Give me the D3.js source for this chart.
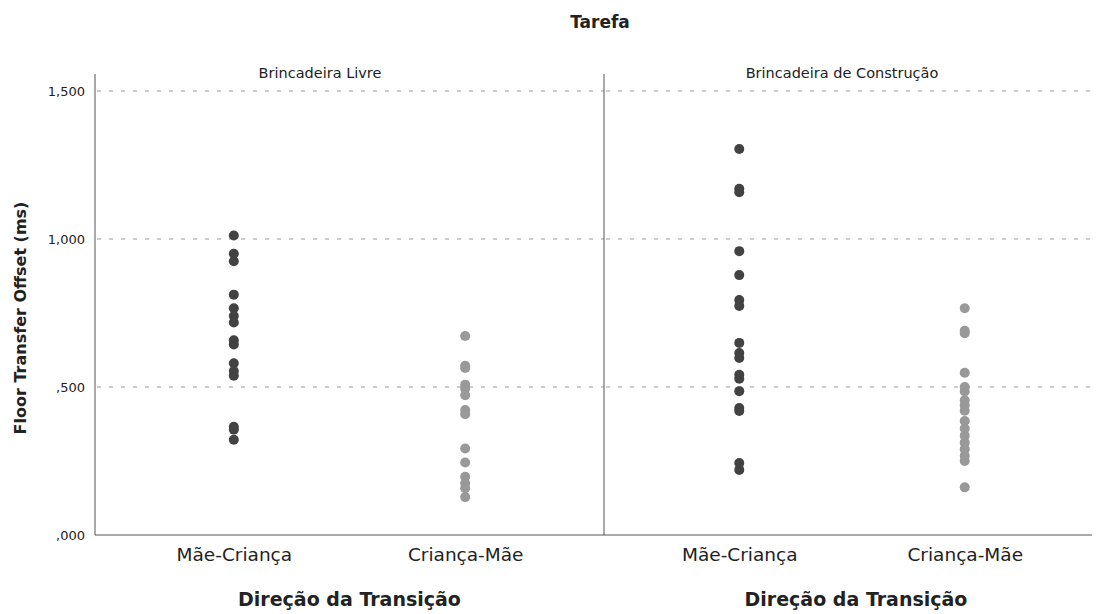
<!DOCTYPE html>
<html>
<head>
<meta charset="utf-8">
<script src="https://cdn.jsdelivr.net/npm/d3@7"></script>
<style>
  html, body { margin: 0; padding: 0; background: #ffffff; }
  svg { display: block; }
  text { font-family: "DejaVu Sans", sans-serif; fill: #222; }
</style>
</head>
<body>
<svg id="chart" width="1100" height="614"></svg>
<script>
// Panels (Tarefa) and x categories (Direção da Transição)
const tasks = ["Brincadeira Livre", "Brincadeira de Construção"];
const directions = ["Mãe-Criança", "Criança-Mãe"];

// Floor Transfer Offset (ms), one array per panel and direction
const livreMaeCrianca = [1012, 950, 925, 812, 766, 740, 718, 658, 644, 580, 554, 538, 366, 356, 322];
const livreCriancaMae = [672, 572, 564, 508, 494, 472, 422, 408, 292, 245, 197, 175, 158, 128];
const construcaoMaeCrianca = [1304, 1170, 1158, 959, 878, 794, 774, 649, 615, 598, 541, 528, 486, 429, 419, 243, 220];
const construcaoCriancaMae = [766, 690, 682, 548, 500, 485, 455, 438, 420, 385, 360, 335, 312, 290, 268, 250, 161];

const yTicks = [0, 500, 1000, 1500];
const yTickLabels = [",000", ",500", "1,000", "1,500"];
const gridValues = [500, 1000, 1500];

const chartTitle = "Tarefa";
const xTitle = "Direção da Transição";
const yTitle = "Floor Transfer Offset (ms)";

const panelData = [
  { task: tasks[0], series: [livreMaeCrianca, livreCriancaMae] },
  { task: tasks[1], series: [construcaoMaeCrianca, construcaoCriancaMae] }
];
const dotColors = ["#424242", "#999999"];

// Layout
const svg = d3.select("#chart");
const plotTop = 74, plotBottom = 535;
const axisX = 95, splitX = 604, rightX = 1100;
const panelRanges = [[axisX, splitX], [splitX, rightX]];

const y = d3.scaleLinear().domain([0, 1500]).range([plotBottom, 91]);

// Chart title
svg.append("text")
  .attr("x", 600).attr("y", 28)
  .attr("text-anchor", "middle")
  .style("font-size", "17px").style("font-weight", "bold")
  .text(chartTitle);

// Y axis title
svg.append("text")
  .attr("transform", `translate(26, 318) rotate(-90)`)
  .attr("text-anchor", "middle")
  .style("font-size", "16px").style("font-weight", "bold")
  .text(yTitle);

// Y axis (labels only; the frame line is drawn below)
const yAxis = d3.axisLeft(y)
  .tickValues(yTicks)
  .tickSize(0)
  .tickPadding(10)
  .tickFormat((d, i) => yTickLabels[i]);
const yG = svg.append("g").attr("transform", `translate(${axisX},0)`).call(yAxis);
yG.select(".domain").remove();
yG.selectAll("text")
  .style("font-family", "DejaVu Sans, sans-serif")
  .style("font-size", "13px")
  .attr("fill", "#333");

const panelLabelX = [320, 842];

panelData.forEach((p, pi) => {
  const [x0, x1] = panelRanges[pi];
  const x = d3.scalePoint().domain(directions).range([x0, x1]).padding(0.6);
  const g = svg.append("g");

  // dashed reference lines
  g.selectAll("line.grid")
    .data(gridValues)
    .join("line")
    .attr("class", "grid")
    .attr("x1", x0 + 2).attr("x2", pi === 1 ? 1096 : x1)
    .attr("y1", d => y(d)).attr("y2", d => y(d))
    .attr("stroke", "#bdbdbd")
    .attr("stroke-width", 1.5)
    .attr("stroke-dasharray", "4,8");

  // panel title
  g.append("text")
    .attr("x", panelLabelX[pi]).attr("y", 78)
    .attr("text-anchor", "middle")
    .style("font-size", "14.5px")
    .attr("fill", "#333")
    .text(p.task);

  // x axis tick labels
  const xAxis = d3.axisBottom(x).tickSize(0).tickPadding(13);
  const xg = g.append("g").attr("transform", `translate(0,${plotBottom})`).call(xAxis);
  xg.select(".domain").remove();
  xg.selectAll("text")
    .style("font-family", "DejaVu Sans, sans-serif")
    .style("font-size", "18.5px")
    .attr("fill", "#333");

  // x axis title
  g.append("text")
    .attr("x", (x0 + x1) / 2 + (pi === 1 ? 4 : 0)).attr("y", 606)
    .attr("text-anchor", "middle")
    .style("font-size", "19px").style("font-weight", "bold")
    .text(xTitle);

  // dots
  p.series.forEach((vals, si) => {
    g.selectAll(null)
      .data(vals)
      .join("circle")
      .attr("cx", x(directions[si]))
      .attr("cy", d => y(d))
      .attr("r", 5)
      .attr("fill", dotColors[si]);
  });
});

// Frame lines: left axis, panel separator, baseline
svg.append("line")
  .attr("x1", axisX).attr("x2", axisX).attr("y1", plotTop).attr("y2", plotBottom)
  .attr("stroke", "#555").attr("stroke-width", 1);
svg.append("line")
  .attr("x1", splitX).attr("x2", splitX).attr("y1", plotTop).attr("y2", plotBottom)
  .attr("stroke", "#555").attr("stroke-width", 1);
svg.append("line")
  .attr("x1", axisX).attr("x2", 1092).attr("y1", plotBottom).attr("y2", plotBottom)
  .attr("stroke", "#555").attr("stroke-width", 1);
</script>
</body>
</html>
